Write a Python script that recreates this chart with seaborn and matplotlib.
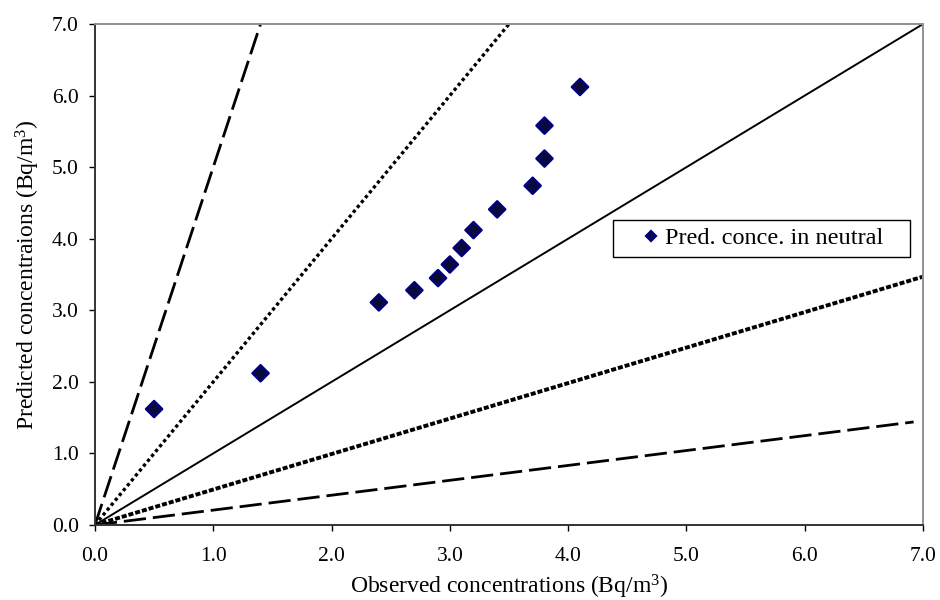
#!/usr/bin/env python3
"""Predicted vs observed concentrations with factor-of-2 / factor-of-5 guide lines."""

import matplotlib.pyplot as plt
import pandas as pd
import seaborn as sns
from matplotlib.ticker import FormatStrFormatter

# observed / predicted concentrations (Bq/m^3)
OBSERVED = [0.5, 1.4, 2.4, 2.7, 2.9, 3.0, 3.1, 3.2, 3.4, 3.7, 3.8, 3.8, 4.1]
PREDICTED = [1.62, 2.12, 3.11, 3.28, 3.45, 3.64, 3.87, 4.12, 4.41, 4.74, 5.12, 5.58, 6.12]
SERIES_LABEL = "Pred. conce. in neutral"

# guide lines from the origin: end point of each
GUIDE_NAMES = ["x5", "x2", "x1", "x0.5", "x0.2"]
GUIDE_END_X = [1.40, 3.50, 7.00, 7.00, 6.92]
GUIDE_END_Y = [7.00, 7.00, 7.00, 3.47, 1.44]

TICKS = [0.0, 1.0, 2.0, 3.0, 4.0, 5.0, 6.0, 7.0]

# line style per guide: (linestyle, linewidth)
GUIDE_STYLE = {
    "x5": ((0, (8.0, 2.5)), 2.0),
    "x2": ((0, (1.0, 0.9)), 2.4),
    "x1": ("-", 1.4),
    "x0.5": ((0, (1.3, 0.5)), 2.8),
    "x0.2": ((0, (8.0, 2.5)), 2.0),
}


def main() -> None:
    sns.set_theme(style="white")
    plt.rcParams["font.family"] = ["Liberation Serif", "DejaVu Serif"]
    plt.rcParams["mathtext.fontset"] = "custom"
    plt.rcParams["mathtext.rm"] = "Liberation Serif"
    plt.rcParams["mathtext.it"] = "Liberation Serif:italic"
    plt.rcParams["text.color"] = "black"
    plt.rcParams["axes.labelcolor"] = "black"

    fig = plt.figure(figsize=(9.4, 6.0), dpi=100)
    ax = fig.add_axes([0.101, 0.125, 0.881, 0.835])

    guides = pd.concat(
        [
            pd.DataFrame({"x": [0.0, ex], "y": [0.0, ey], "guide": name})
            for name, ex, ey in zip(GUIDE_NAMES, GUIDE_END_X, GUIDE_END_Y)
        ],
        ignore_index=True,
    )
    for name in GUIDE_NAMES:
        ls, lw = GUIDE_STYLE[name]
        sub = guides[guides["guide"] == name]
        sns.lineplot(data=sub, x="x", y="y", color="black", linewidth=lw,
                     linestyle=ls, ax=ax, legend=False, sort=False,
                     estimator=None, dash_capstyle="butt")

    pts = pd.DataFrame({"obs": OBSERVED, "pred": PREDICTED, "series": SERIES_LABEL})
    sns.scatterplot(data=pts, x="obs", y="pred", hue="series",
                    palette={SERIES_LABEL: "#0a0a3a"}, marker="D", s=70,
                    edgecolor="#000080", linewidth=1.6, ax=ax, zorder=5)

    ax.set_xlim(0, 7)
    ax.set_ylim(0, 7)
    ax.set_xticks(TICKS)
    ax.set_yticks(TICKS)
    ax.xaxis.set_major_formatter(FormatStrFormatter("%.1f"))
    ax.yaxis.set_major_formatter(FormatStrFormatter("%.1f"))
    ax.tick_params(axis="both", which="major", direction="out", length=4.5,
                   width=1, colors="black", labelsize=15.5)
    ax.tick_params(axis="x", bottom=True, top=False, pad=11.5)
    ax.tick_params(axis="y", left=True, right=False, pad=7)

    ax.set_xlabel("Observed concentrations (Bq/m$^{3}$)", fontsize=17, labelpad=5)
    ax.set_ylabel("Predicted concentraions (Bq/m$^{3}$)", fontsize=17, labelpad=7)

    for side in ("left", "bottom"):
        ax.spines[side].set_color("#333333")
        ax.spines[side].set_linewidth(1.4)
    for side in ("top", "right"):
        ax.spines[side].set_color("#909090")
        ax.spines[side].set_linewidth(1.4)

    leg = ax.get_legend()
    if leg is not None:
        leg.remove()
    handles, labels = ax.get_legend_handles_labels()
    leg = ax.legend(handles, labels, loc="center", bbox_to_anchor=(0.805, 0.572),
                    frameon=True, fancybox=False, fontsize=17.5,
                    handletextpad=0.15, handlelength=0.9, borderpad=0.3,
                    markerscale=0.65)
    frame = leg.get_frame()
    frame.set_edgecolor("black")
    frame.set_linewidth(1.0)
    frame.set_alpha(1.0)
    # extra horizontal room inside the box, as in the reference legend
    frame.set_boxstyle("square", pad=0.8)
    frame.set_mutation_aspect(0.01)

    fig.savefig("out.png", dpi=100)
    plt.close(fig)


if __name__ == "__main__":
    main()
